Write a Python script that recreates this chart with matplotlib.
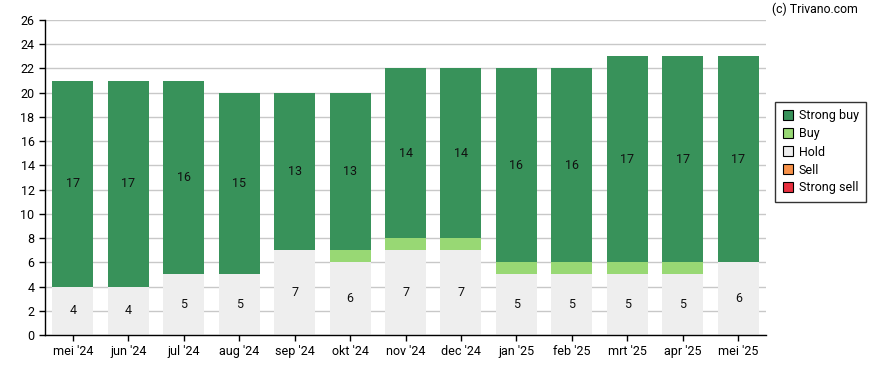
import matplotlib
matplotlib.use("Agg")
import matplotlib.pyplot as plt
import numpy as np
from matplotlib.patches import Patch

plt.rcParams['font.family'] = ['Roboto', 'DejaVu Sans']

months = ["mei '24", "jun '24", "jul '24", "aug '24", "sep '24", "okt '24", "nov '24",
          "dec '24", "jan '25", "feb '25", "mrt '25", "apr '25", "mei '25"]
strong_sell = [0, 0, 0, 0, 0, 0, 0, 0, 0, 0, 0, 0, 0]
sell = [0, 0, 0, 0, 0, 0, 0, 0, 0, 0, 0, 0, 0]
hold = [4, 4, 5, 5, 7, 6, 7, 7, 5, 5, 5, 5, 6]
buy = [0, 0, 0, 0, 0, 1, 1, 1, 1, 1, 1, 1, 0]
strong_buy = [17, 17, 16, 15, 13, 13, 14, 14, 16, 16, 17, 17, 17]

series = [("Strong sell", strong_sell, "#E8303F"),
          ("Sell", sell, "#F79149"),
          ("Hold", hold, "#EEEEEE"),
          ("Buy", buy, "#98D874"),
          ("Strong buy", strong_buy, "#38925A")]

fig = plt.figure(figsize=(8.88, 3.70), dpi=100)
ax = fig.add_axes([45/888, 35/370, 721/888, 315/370])

x = np.arange(len(months))
bottom = np.zeros(len(months))
for name, vals, col in series:
    vals = np.array(vals, dtype=float)
    ax.bar(x, vals, bottom=bottom, width=0.74, color=col, zorder=2, linewidth=0)
    for xi, v, b in zip(x, vals, bottom):
        if v >= 2:
            ax.text(xi, b + v / 2, f"{int(v)}", ha='center', va='center',
                    fontsize=9, color='#111111', zorder=3)
    bottom += vals

ax.set_xlim(-0.5, len(months) - 0.5)
ax.set_ylim(0, 26)
ax.set_yticks(range(0, 27, 2))
ax.set_xticks(x)
ax.set_xticklabels(months)
ax.grid(axis='y', color='#C8C8C8', linewidth=1, zorder=0)
ax.set_axisbelow(True)
for s in ['top', 'right']:
    ax.spines[s].set_visible(False)
for s in ['left', 'bottom']:
    ax.spines[s].set_color('black')
    ax.spines[s].set_linewidth(1)
ax.tick_params(axis='both', labelsize=9, colors='black', length=4, width=1)
ax.tick_params(axis='x', pad=3)

handles = [Patch(facecolor=c, edgecolor='black', linewidth=0.8, label=n)
           for n, _, c in reversed(series)]
leg = fig.legend(handles=handles, loc='upper left', bbox_to_anchor=(775/888, 1 - 102/370),
                 frameon=True, fancybox=False, fontsize=9, handlelength=0.8,
                 handleheight=0.8, handletextpad=0.5, borderpad=0.6, labelspacing=0.4,
                 borderaxespad=0)
leg.get_frame().set_edgecolor('black')
leg.get_frame().set_linewidth(1)

fig.text(858/888, 1 - 9/370, "(c) Trivano.com", ha='right', va='center', fontsize=8.8)

fig.savefig("out.png", dpi=100)
